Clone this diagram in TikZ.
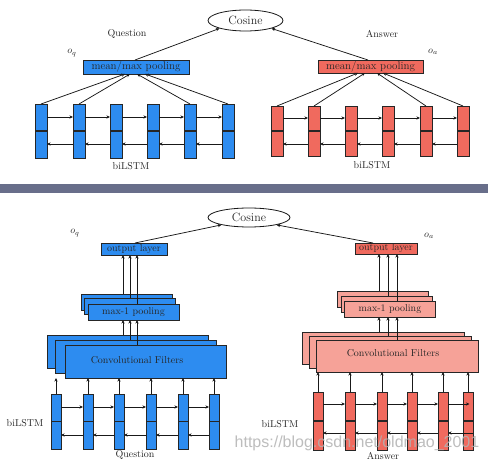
\documentclass[tikz,border=0pt]{standalone}
\usepackage{fontspec}
\newfontfamily\wmfont{Liberation Sans}
\usetikzlibrary{arrows.meta,shapes.geometric,calc}
\definecolor{qblue}{RGB}{45,140,240}
\definecolor{ared}{RGB}{240,106,94}
\definecolor{apink}{RGB}{246,162,152}
\definecolor{barcol}{RGB}{104,110,138}
\begin{document}
\begin{tikzpicture}[x=1pt,y=-1pt,
  every node/.style={font=\fontsize{10}{12}\selectfont, text=black!85},
  lstm/.style={rectangle, draw=black!85, line width=0.6pt, inner sep=0pt, outer sep=0pt},
  blk/.style={rectangle, draw=black!85, line width=0.6pt, inner sep=0pt, outer sep=0pt},
  divline/.style={line width=1.3pt, black!85},
  arr/.style={line width=0.75pt, black!90, -{Stealth[length=3.6pt,width=3.2pt]}},
  lbl/.style={inner sep=0pt},
  cos/.style={ellipse, draw=black!90, line width=0.8pt, inner sep=0pt, fill=white}
]
\useasboundingbox (0,0) rectangle (488,462);
\fill[white] (0,0) rectangle (488,462);

% ================= TOP PART =================
\node[cos, minimum width=75pt, minimum height=21pt, font=\fontsize{12}{14}\selectfont] (cosT) at (245.5,20.5) {Cosine};

\node[lbl] (tQ) at (127,34) {Question};
\node[lbl] (tA) at (382,34) {Answer};
\node[lbl] (toq) at (72,53) {$o_q$};
\node[lbl] (toa) at (433,52) {$o_a$};

\node[blk, fill=qblue, minimum width=106pt, minimum height=14pt, font=\fontsize{11}{12}\selectfont] (pq) at (136,67) {mean/max pooling};
\node[blk, fill=ared, minimum width=105pt, minimum height=13pt, font=\fontsize{11}{12}\selectfont] (pa) at (370.5,66.5) {mean/max pooling};

\foreach \x [count=\i] in {41,79,116,153,190,228} {
  \node[lstm, fill=qblue, minimum width=12pt, minimum height=54pt] (tq\i) at (\x,131) {};
  \draw[divline] (tq\i.west) -- (tq\i.east);
}
\foreach \x [count=\i] in {277,314,351,388,426,463} {
  \node[lstm, fill=ared, minimum width=12pt, minimum height=50pt] (ta\i) at (\x,131) {};
  \draw[divline] (ta\i.west) -- (ta\i.east);
}
\foreach \i [evaluate=\i as \j using int(\i+1)] in {1,...,5} {
  \draw[arr] ([yshift=14pt]tq\i.east) -- ([yshift=14pt]tq\j.west);
  \draw[arr] ([yshift=-13pt]tq\j.west) -- ([yshift=-13pt]tq\i.east);
  \draw[arr] ([yshift=13pt]ta\i.east) -- ([yshift=13pt]ta\j.west);
  \draw[arr] ([yshift=-13pt]ta\j.west) -- ([yshift=-13pt]ta\i.east);
}
\node[lbl] (tbq) at (131,166) {biLSTM};
\node[lbl] (tba) at (372,165) {biLSTM};

\draw[arr] (tq1.north) -- ([xshift=-11pt]pq.south);
\draw[arr] (tq2.north) -- ([xshift=-6pt]pq.south);
\draw[arr] (tq5.north) -- ([xshift=1pt]pq.south);
\draw[arr] (tq6.north) -- ([xshift=9pt]pq.south);
\draw[arr] (ta1.north) -- ([xshift=-12.5pt]pa.south);
\draw[arr] (ta2.north) -- ([xshift=-5.5pt]pa.south);
\draw[arr] (ta5.north) -- ([xshift=6.5pt]pa.south);
\draw[arr] (ta6.north) -- ([xshift=12.5pt]pa.south);

\draw[arr] ([xshift=-1pt]pq.north) -- (cosT.197);
\draw[arr] ([xshift=-2.5pt]pa.north) -- (cosT.343);

% ================= SEPARATOR =================
\fill[barcol] (0,184) rectangle (488,193);

% ================= BOTTOM PART =================
\node[cos, minimum width=82pt, minimum height=19pt, font=\fontsize{12}{14}\selectfont] (cosB) at (249,217.5) {Cosine};
\node[lbl] (boq) at (75,233) {$o_q$};
\node[lbl] (boa) at (429,236) {$o_a$};

% --- question side ---
\node[blk, fill=qblue, minimum width=66pt, minimum height=12pt] (oq) at (134,249) {output layer};
\node[blk, fill=qblue, minimum width=91pt, minimum height=16pt] (pqb) at (126.5,302) {};
\node[blk, fill=qblue, minimum width=91pt, minimum height=16pt] (pqm) at (129.5,306) {};
\node[blk, fill=qblue, minimum width=91pt, minimum height=16pt] (pqf) at (133.5,312) {max-1 pooling};
\node[blk, fill=qblue, minimum width=161pt, minimum height=33pt] (cqb) at (127.5,351.5) {};
\node[blk, fill=qblue, minimum width=161pt, minimum height=33pt] (cqm) at (135.5,356.5) {};
\node[blk, fill=qblue, minimum width=161pt, minimum height=33pt] (cqf) at (145.5,361.5) {};
\node[lbl] (cqt) at (137,360) {Convolutional Filters};

\draw[arr] ([xshift=-11pt]oq.south |- pqb.north) -- ([xshift=-11pt]oq.south);
\draw[arr] ([xshift=-4pt]oq.south |- pqm.north) -- ([xshift=-4pt]oq.south);
\draw[arr] ([xshift=3pt]oq.south |- pqf.north) -- ([xshift=3pt]oq.south);
\draw[arr] ([xshift=-11pt]oq.south |- cqb.north) -- ([xshift=-11pt]oq.south |- pqf.south);
\draw[arr] ([xshift=-4pt]oq.south |- cqm.north) -- ([xshift=-4pt]oq.south |- pqf.south);
\draw[arr] ([xshift=3pt]oq.south |- cqf.north) -- ([xshift=3pt]oq.south |- pqf.south);

\foreach \x [count=\i] in {56,88,119,151,183,214} {
  \node[lstm, fill=qblue, minimum width=10pt, minimum height=55pt] (bq\i) at (\x,421.5) {};
  \draw[divline] (bq\i.west) -- (bq\i.east);
  \draw[arr] (bq\i.north) -- (bq\i.north |- cqf.south);
}
\foreach \i [evaluate=\i as \j using int(\i+1)] in {1,...,5} {
  \draw[arr] ([yshift=14.5pt]bq\i.east) -- ([yshift=14.5pt]bq\j.west);
  \draw[arr] ([yshift=-13.5pt]bq\j.west) -- ([yshift=-13.5pt]bq\i.east);
}
\node[lbl] (bbq) at (25,423) {biLSTM};
\node[lbl] (bQ) at (135,455) {Question};

% --- answer side ---
\node[blk, fill=ared, minimum width=62pt, minimum height=11pt] (oa) at (386,248.5) {output layer};
\node[blk, fill=apink, minimum width=91pt, minimum height=16pt] (pab) at (382.5,299) {};
\node[blk, fill=apink, minimum width=91pt, minimum height=16pt] (pam) at (386.5,304) {};
\node[blk, fill=apink, minimum width=91pt, minimum height=16pt] (paf) at (390,309) {max-1 pooling};
\node[blk, fill=apink, minimum width=162pt, minimum height=32pt] (cab) at (383,348) {};
\node[blk, fill=apink, minimum width=162pt, minimum height=32pt] (cam) at (390,352) {};
\node[blk, fill=apink, minimum width=162pt, minimum height=32pt] (caf) at (397.5,356) {};
\node[lbl] (cat) at (393,353) {Convolutional Filters};

\draw[arr] ([xshift=-7pt]oa.south |- pab.north) -- ([xshift=-7pt]oa.south);
\draw[arr] ([xshift=2pt]oa.south |- pam.north) -- ([xshift=2pt]oa.south);
\draw[arr] ([xshift=11pt]oa.south |- paf.north) -- ([xshift=11pt]oa.south);
\draw[arr] ([xshift=-7pt]oa.south |- cab.north) -- ([xshift=-7pt]oa.south |- paf.south);
\draw[arr] ([xshift=2pt]oa.south |- cam.north) -- ([xshift=2pt]oa.south |- paf.south);
\draw[arr] ([xshift=11pt]oa.south |- caf.north) -- ([xshift=11pt]oa.south |- paf.south);

\foreach \x [count=\i] in {318,350,382,412,443,468} {
  \node[lstm, fill=ared, minimum width=10pt, minimum height=58pt] (ba\i) at (\x,421) {};
  \draw[divline] (ba\i.west) -- (ba\i.east);
  \draw[arr] (ba\i.north) -- (ba\i.north |- caf.south);
}
\foreach \i [evaluate=\i as \j using int(\i+1)] in {1,...,4} {
  \draw[arr] ([yshift=17pt]ba\i.east) -- ([yshift=17pt]ba\j.west);
  \draw[arr] ([yshift=-12pt]ba\j.west) -- ([yshift=-12pt]ba\i.east);
}
\draw[arr] ([yshift=17pt]ba5.east) -- ([xshift=1.5pt,yshift=17pt]ba6.center);
\draw[arr] ([yshift=-12pt]ba6.east) -- ([yshift=-12pt]ba5.east);
\node[lbl] (bba) at (280,424) {biLSTM};
\node[lbl] (bA) at (383,456) {Answer};

% bottom arrows to cosine
\draw[arr] ([xshift=1pt]oq.north) -- (cosB.195);
\draw[arr] ([xshift=-13pt]oa.north) -- (cosB.345);

% watermark
\node[lbl, font=\wmfont\fontsize{16}{18}\selectfont, text=black!30, opacity=0.85] (wm) at (357,443) {https://blog.csdn.net/oldmao\_2001};
\end{tikzpicture}
\end{document}
